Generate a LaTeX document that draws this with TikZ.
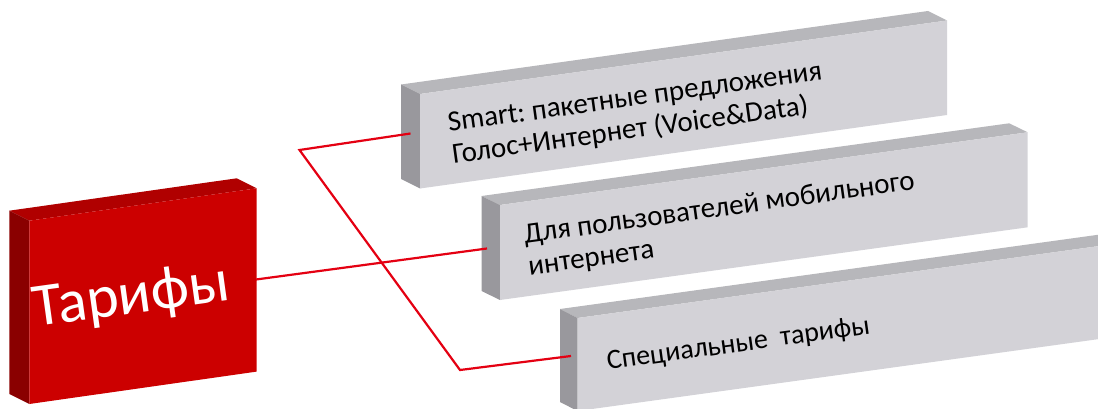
\documentclass[tikz,border=0pt]{standalone}
\usepackage{fontspec}
\setmainfont{Carlito}
\frenchspacing
\definecolor{tarfront}{RGB}{204,0,0}
\definecolor{tartop}{RGB}{176,0,0}
\definecolor{tarside}{RGB}{138,0,0}
\definecolor{slabfront}{RGB}{211,210,215}
\definecolor{slabtop}{RGB}{183,183,187}
\definecolor{slabside}{RGB}{153,152,157}
\definecolor{linkred}{RGB}{228,0,18}
% box: x y width rise height dx dy colour
\newcommand{\slab}[8]{%
  \fill[#8top] (#1,#2) -- ++(#3,-#4) -- ++(-#6,-#7) -- ++(-#3,#4) -- cycle;
  \fill[#8side] (#1,#2) -- ++(-#6,-#7) -- ++(0,#5) -- ++(#6,#7) -- cycle;
  \fill[#8front] (#1,#2) -- ++(#3,-#4) -- ++(0,#5) -- ++(-#3,#4) -- cycle;}
% two lines, baseline on the first one
\newcommand{\twolines}[2]{\vtop{\hbox{#1}\hbox{#2}}}
\begin{document}
\begin{tikzpicture}[x=1pt,y=-1pt,
    link/.style={line width=2.2pt,color=linkred},
    tilt/.style={rotate=7.9,anchor=base west,inner sep=0pt},
    slabtext/.style={tilt,font=\fontsize{29}{32}\selectfont}]
  \clip (0,0) rectangle (1098,409);
  % boxes
  \slab{29.3}{220.7}{227.4}{32.4}{183.3}{20}{10}{tar}
  \slab{420}{94}{527}{73.5}{94.5}{19}{9.5}{slab}
  \slab{500}{205}{527.7}{72.7}{95}{18.5}{9}{slab}
  \slab{577.5}{318}{540}{74.5}{93}{17.5}{9}{slab}
  % texts
  \node[tilt,white,font=\fontsize{61}{63}\selectfont] (tar) at (35,327) {Тарифы};
  \node[slabtext] (smart) at (449,131.7) {\twolines{Smart: пакетные предложения}{Голос+Интернет (Voice\&Data)}};
  \node[slabtext] (mob) at (525,243.5) {\twolines{Для пользователей мобильного}{интернета}};
  \node[slabtext,font=\fontsize{28}{32}\selectfont] (spec) at (608,370) {Специальные\ \ тарифы};
  % connectors
  \coordinate (tarR) at (256,279.5);
  \coordinate (smartL) at (410.5,133.5);
  \coordinate (mobL) at (487,248.5);
  \coordinate (specL) at (571,356);
  \coordinate (kneeA) at (299.5,150);
  \coordinate (kneeB) at (460,370);
  \draw[link] (tarR) -- (mobL);
  \draw[link] (smartL) -- (kneeA) -- (kneeB) -- (specL);
\end{tikzpicture}
\end{document}
